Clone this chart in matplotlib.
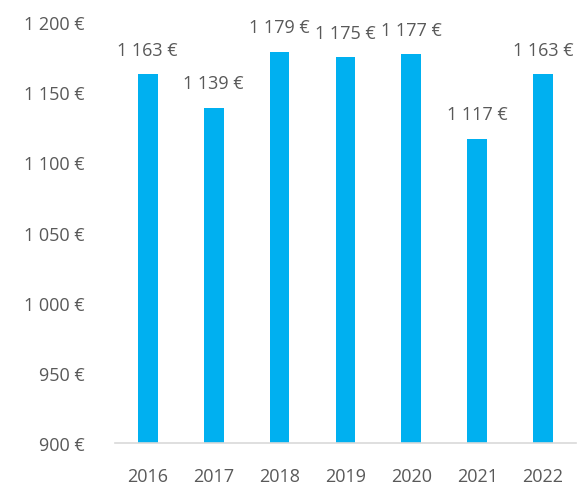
import matplotlib
matplotlib.use("Agg")
import matplotlib.pyplot as plt

years = ["2016", "2017", "2018", "2019", "2020", "2021", "2022"]
values = [1163, 1139, 1179, 1175, 1177, 1117, 1163]
yticks = [900, 950, 1000, 1050, 1100, 1150, 1200]

def fmt(v):
    s = f"{v:,}".replace(",", " ")
    return s + " €"

plt.rcParams['font.family'] = ['Open Sans', 'DejaVu Sans']
text_color = "#595959"
fs = 13

fig = plt.figure(figsize=(5.86, 4.85), dpi=100)
ax = fig.add_axes([0.196, 0.0845, 0.787, 0.868])
x = list(range(len(years)))
ax.bar(x, values, width=0.3, color="#00B0F0")
ax.set_ylim(900, 1200)
ax.set_xlim(-0.5, len(years) - 0.5)
ax.set_yticks(yticks)
ax.set_yticklabels([fmt(v) for v in yticks], fontsize=fs, color=text_color)
ax.set_xticks(x)
ax.set_xticklabels(years, fontsize=fs, color=text_color)
for sp in ["top", "right", "left"]:
    ax.spines[sp].set_visible(False)
ax.spines["bottom"].set_color("#D9D9D9")
ax.spines["bottom"].set_linewidth(1.2)
ax.tick_params(axis="both", length=0)
ax.tick_params(axis="y", pad=22)
ax.tick_params(axis="x", pad=17)
for xi, v in zip(x, values):
    ax.annotate(fmt(v), (xi, v), xytext=(0, 11), textcoords="offset points",
                ha="center", va="bottom", fontsize=fs, color=text_color,
                annotation_clip=False)
fig.savefig("out.png", dpi=100)
